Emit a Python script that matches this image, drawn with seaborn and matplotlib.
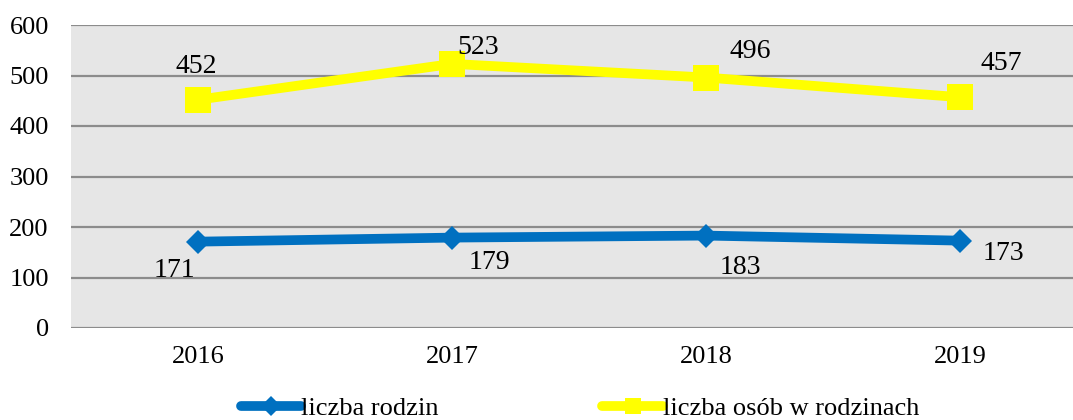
import pandas as pd
import matplotlib.pyplot as plt
import seaborn as sns

years = ['2016', '2017', '2018', '2019']
rodziny = [171, 179, 183, 173]
osoby = [452, 523, 496, 457]
series_names = ['liczba rodzin', 'liczba osób w rodzinach']

# label offsets in points (hand-placed like in the source)
off_rodziny = [(-17, -21), (27, -18), (25, -23), (31, -9)]
off_osoby = [(-1, 24), (19, 12), (32, 19), (30, 24)]

df = pd.DataFrame({
    'rok': years * 2,
    'wartosc': rodziny + osoby,
    'seria': [series_names[0]] * 4 + [series_names[1]] * 4,
})

sns.set_style('white')
plt.rcParams['font.family'] = ['Liberation Serif', 'DejaVu Serif']
plt.rcParams['text.color'] = 'black'
plt.rcParams['xtick.color'] = 'black'
plt.rcParams['ytick.color'] = 'black'

fig = plt.figure(figsize=(10.73, 4.2), dpi=100)
ax = fig.add_axes([71 / 1073, 1 - 328 / 420, 1016 / 1073, 303 / 420])
ax.set_facecolor('#e6e6e6')

colors = {series_names[0]: '#0070c0', series_names[1]: '#ffff00'}
sns.lineplot(data=df, x='rok', y='wartosc', hue='seria', style='seria',
             palette=colors, markers={series_names[0]: 'D', series_names[1]: 's'},
             dashes=False, linewidth=7, markersize=17, markeredgewidth=0,
             sort=False, ax=ax, legend=True)
for ln, ms in zip(ax.lines[:2], [12, 19]):
    ln.set_markersize(ms)
    ln.set_solid_capstyle('round')

for i, (v, o) in enumerate(zip(rodziny, off_rodziny)):
    ax.annotate(str(v), (i, v), xytext=o, textcoords='offset points',
                ha='center', va='center', fontsize=20, color='black')
for i, (v, o) in enumerate(zip(osoby, off_osoby)):
    ax.annotate(str(v), (i, v), xytext=o, textcoords='offset points',
                ha='center', va='center', fontsize=20, color='black')

ax.set_ylim(0, 600)
ax.set_xlim(-0.5, 3.5)
ax.set_yticks(range(0, 601, 100))
ax.yaxis.grid(True, color='#8c8c8c', linewidth=1.6)
ax.set_axisbelow(True)
for s in ax.spines.values():
    s.set_visible(False)
ax.tick_params(axis='both', length=0, labelsize=19)
ax.tick_params(axis='y', pad=16)
ax.tick_params(axis='x', pad=13)
ax.set_xlabel('')
ax.set_ylabel('')

handles, labels = ax.get_legend_handles_labels()
leg = ax.legend(handles, labels, loc='lower center', bbox_to_anchor=(580 / 1073, -24 / 420),
                bbox_transform=fig.transFigure, ncol=2, frameon=False, fontsize=19,
                handlelength=2.3, handletextpad=0.0, columnspacing=6.2)
for h, ms in zip(leg.legend_handles, [10, 11]):
    h.set_markersize(ms)
    h.set_linewidth(7)
    h.set_solid_capstyle('round')

fig.savefig('out.png', dpi=100)
